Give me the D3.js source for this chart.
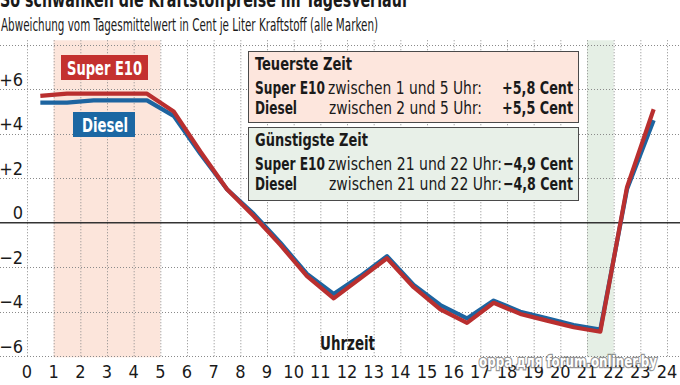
<!DOCTYPE html>
<meta charset="utf-8">
<style>
body { margin: 0; background: #fff; }
svg { display: block; }
text { font-family: "Liberation Sans Narrow", "DejaVu Sans Condensed", sans-serif; fill: #1a1a1a; }
.grid line { stroke: #8a8a8a; stroke-width: 1; stroke-dasharray: 1,2; }
.b { font-weight: bold; }
</style>
<svg width="680" height="385"></svg>
<script src="https://d3js.org/d3.v7.min.js"></script>
<script>
// Stunde (Mitte des Intervalls) und Abweichung in Cent
var hours  = [0.5, 1.5, 2.5, 3.5, 4.5, 5.5, 6.5, 7.5, 8.5, 9.5, 10.5, 11.5,
              12.5, 13.5, 14.5, 15.5, 16.5, 17.5, 18.5, 19.5, 20.5, 21.5, 22.5, 23.5];
var e10    = [5.7, 5.8, 5.8, 5.8, 5.8, 5.0, 3.2, 1.5, 0.3, -1.0, -2.4, -3.4,
              -2.5, -1.6, -2.9, -3.9, -4.5, -3.6, -4.1, -4.4, -4.7, -4.9, 1.6, 5.1];
var diesel = [5.4, 5.4, 5.5, 5.5, 5.5, 4.8, 3.1, 1.5, 0.4, -0.9, -2.3, -3.2,
              -2.4, -1.5, -2.8, -3.7, -4.3, -3.5, -4.0, -4.3, -4.6, -4.8, 1.5, 4.6];

var xTicks = [0,1,2,3,4,5,6,7,8,9,10,11,12,13,14,15,16,17,18,19,20,21,22,23,24];
var yGrid  = [8, 6, 4, 2, -2, -4, -6];
var yLabels = [6, 4, 2, 0, -2, -4, -6];

var teuer   = [["Super E10", "zwischen 1 und 5 Uhr:", "+5,8 Cent"],
               ["Diesel", "zwischen 2 und 5 Uhr:", "+5,5 Cent"]];
var guenstig = [["Super E10", "zwischen 21 und 22 Uhr:", "\u22124,9 Cent"],
                ["Diesel", "zwischen 21 und 22 Uhr:", "\u22124,8 Cent"]];

var svg = d3.select("svg"),
    width = +svg.attr("width");

var x = d3.scaleLinear().domain([0, 24]).range([27, 667]);
var y = d3.scaleLinear().domain([-6, 8]).range([356.2, 44.7]);

var top_ = y(8.2), bottom = y(-6.05);

// Zeitfenster
svg.append("rect").attr("x", x(1)).attr("y", top_).attr("width", x(5) - x(1))
    .attr("height", bottom - top_).attr("fill", "#fce5db");
svg.append("rect").attr("x", x(21)).attr("y", top_).attr("width", x(22) - x(21))
    .attr("height", bottom - top_).attr("fill", "#e5efe5");

// Gitter
var grid = svg.append("g").attr("class", "grid");
grid.selectAll(".v").data(xTicks).enter().append("line")
    .attr("x1", function(d) { return x(d) + 0.5; }).attr("x2", function(d) { return x(d) + 0.5; })
    .attr("y1", top_).attr("y2", bottom);
grid.selectAll(".h").data(yGrid).enter().append("line")
    .attr("x1", 0).attr("x2", width)
    .attr("y1", function(d) { return Math.round(y(d)) + 0.5; })
    .attr("y2", function(d) { return Math.round(y(d)) + 0.5; });

svg.append("line").attr("x1", 0).attr("x2", width)
    .attr("y1", y(0)).attr("y2", y(0))
    .attr("stroke", "#333").attr("stroke-width", 1.4);

// Achsenbeschriftung
svg.selectAll(".xl").data(xTicks).enter().append("text")
    .attr("x", function(d) { return x(d); }).attr("y", 378)
    .attr("text-anchor", "middle").attr("font-size", 18).attr("fill", "#333")
    .text(function(d) { return d; });

svg.selectAll(".yl").data(yLabels).enter().append("text")
    .attr("x", 23).attr("y", function(d) { return y(d) - 3.5; })
    .attr("text-anchor", "end").attr("font-size", 18).attr("fill", "#333")
    .text(function(d) { return d > 0 ? "+" + d : d < 0 ? "\u2212" + (-d) : "0"; });

// Linien
var line = d3.line().x(function(d) { return x(d[0]); }).y(function(d) { return y(d[1]); });
svg.append("path").datum(d3.zip(hours, diesel)).attr("d", line)
    .attr("fill", "none").attr("stroke", "#1d64a0").attr("stroke-width", 4.2)
    .attr("stroke-linejoin", "round");
svg.append("path").datum(d3.zip(hours, e10)).attr("d", line)
    .attr("fill", "none").attr("stroke", "#b92f2f").attr("stroke-width", 4.2)
    .attr("stroke-linejoin", "round");

// Titel
svg.append("text").attr("class", "b").attr("x", 0).attr("y", 7).attr("font-size", 22)
    .attr("textLength", 408).attr("lengthAdjust", "spacingAndGlyphs")
    .text("So schwanken die Kraftstoffpreise im Tagesverlauf");
svg.append("text").attr("x", 1).attr("y", 31).attr("font-size", 17.5).attr("fill", "#222")
    .attr("textLength", 377).attr("lengthAdjust", "spacingAndGlyphs")
    .text("Abweichung vom Tagesmittelwert in Cent je Liter Kraftstoff (alle Marken)");

// Legende
svg.append("rect").attr("x", 61).attr("y", 55).attr("width", 87).attr("height", 25).attr("fill", "#c4312f");
svg.append("text").attr("class", "b").attr("x", 67).attr("y", 75).attr("font-size", 19.5)
    .attr("textLength", 75).attr("lengthAdjust", "spacingAndGlyphs")
    .style("fill", "#fff").text("Super E10");
svg.append("rect").attr("x", 73).attr("y", 112).attr("width", 62).attr("height", 25).attr("fill", "#1b67a3");
svg.append("text").attr("class", "b").attr("x", 82).attr("y", 131.5).attr("font-size", 19.5)
    .attr("textLength", 46).attr("lengthAdjust", "spacingAndGlyphs")
    .style("fill", "#fff").text("Diesel");

// Infokästen
function box(y0, y1, fill, title, titleW, rows) {
  svg.append("rect").attr("x", 248.5).attr("y", y0 + 0.5).attr("width", 330).attr("height", y1 - y0)
      .attr("fill", fill).attr("stroke", "#4a4a4a").attr("stroke-width", 1);
  svg.append("text").attr("class", "b").attr("x", 255).attr("y", y0 + 19).attr("font-size", 18.5)
      .attr("textLength", titleW).attr("lengthAdjust", "spacingAndGlyphs").text(title);
  rows.forEach(function(r, i) {
    var by = y0 + 43 + i * 20;
    var long = r[1].length > 21;
    svg.append("text").attr("class", "b").attr("x", 255).attr("y", by).attr("font-size", 18.5)
        .attr("textLength", i === 0 ? 70 : 42).attr("lengthAdjust", "spacingAndGlyphs").text(r[0]);
    svg.append("text").attr("x", i === 0 ? 328 : 329).attr("y", by).attr("font-size", 18.5)
        .attr("textLength", long ? (i === 0 ? 174 : 173) : (i === 0 ? 154 : 153))
        .attr("lengthAdjust", "spacingAndGlyphs").text(r[1]);
    svg.append("text").attr("class", "b").attr("x", 573).attr("y", by).attr("font-size", 18.5)
        .attr("text-anchor", "end").attr("textLength", long ? 70 : 71)
        .attr("lengthAdjust", "spacingAndGlyphs").text(r[2]);
  });
}
box(51, 122, "#fde6dd", "Teuerste Zeit", 97, teuer);
box(127, 200, "#e8f0e8", "G\u00fcnstigste Zeit", 113, guenstig);

svg.append("text").attr("class", "b").attr("x", 320).attr("y", 350).attr("font-size", 19)
    .attr("textLength", 55).attr("lengthAdjust", "spacingAndGlyphs").text("Uhrzeit");

// Wasserzeichen
svg.append("text").attr("class", "b").attr("x", 479).attr("y", 367).attr("font-size", 16)
    .attr("textLength", 178).attr("lengthAdjust", "spacingAndGlyphs")
    .attr("stroke", "rgba(60,60,60,0.55)").attr("stroke-width", 2.5).attr("paint-order", "stroke")
    .style("fill", "#fff").text("oppa для forum.onliner.by");
</script>
